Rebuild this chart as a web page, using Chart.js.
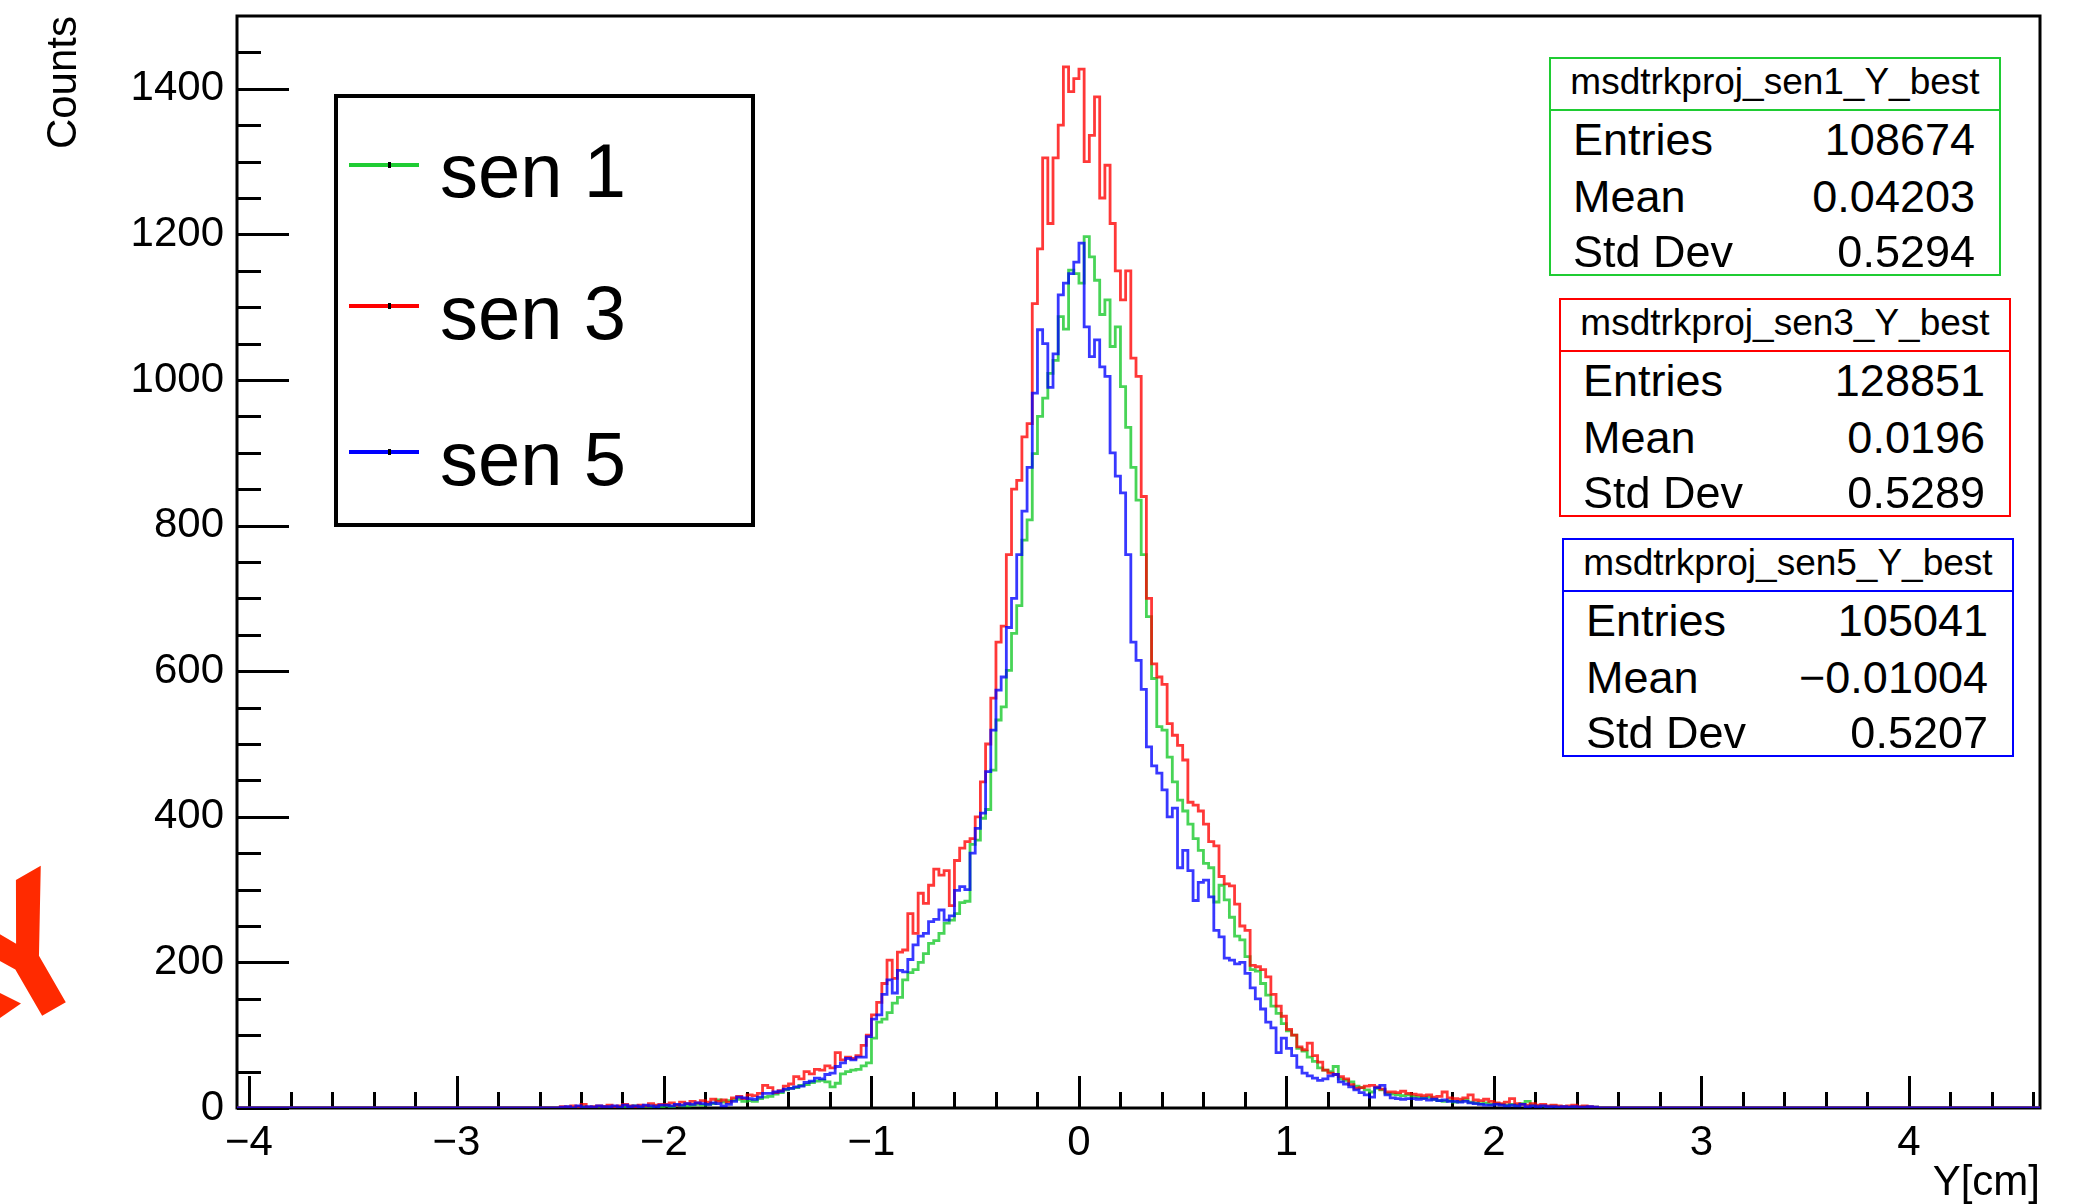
<!DOCTYPE html>
<html>
<head>
<meta charset="utf-8">
<title>msdtrkproj Y best</title>
<script src="https://cdn.jsdelivr.net/npm/chart.js@4.4.1/dist/chart.umd.min.js"></script>
<style>
  html, body { margin: 0; padding: 0; background: #fff; }
  body { position: relative; width: 2089px; height: 1204px; overflow: hidden; font-family: 'Liberation Sans', Arial, Helvetica, sans-serif; }
  #c { position: absolute; left: 0; top: 0; }
  .txt { position: absolute; white-space: nowrap; color: #000; }
  .box { position: absolute; box-sizing: border-box; background: #fff; }
</style>
</head>
<body>
<canvas id="c" width="2089" height="1204"></canvas>
<script>
/* ==================================================
   Y projection of tracks on MSD sensors 1 / 3 / 5
================================================== */

// Axis ranges and tick labels
const X_MIN = -4.058;
const X_MAX = 4.632;
const Y_MAX = 1500;
const xTicks = [-4, -3, -2, -1, 0, 1, 2, 3, 4];
const yTicks = [0, 200, 400, 600, 800, 1000, 1200, 1400];

// Histogram binning (counts, bins of 0.025 cm from -2.5)
const binStart = -2.5;
const binWidth = 0.025;

const sen1Counts = [
  0, 1, 0, 1, 2, 0, 1, 1, 2, 1, 1, 2, 1, 2, 3, 1, 2, 2, 3, 2,
  3, 2, 4, 3, 3, 4, 5, 4, 5, 6, 11, 8, 10, 11, 12, 9, 10, 9, 13, 15,
  16, 19, 21, 25, 27, 28, 31, 32, 35, 37, 38, 36, 29, 34, 47, 50, 52, 53, 58, 62,
  96, 118, 122, 131, 144, 152, 176, 186, 190, 200, 212, 226, 230, 240, 254, 258, 267, 282, 284, 362,
  368, 398, 410, 464, 533, 551, 601, 652, 690, 780, 808, 899, 950, 975, 1009, 1027, 1087, 1070, 1151, 1146,
  1133, 1197, 1169, 1137, 1090, 1110, 1046, 1073, 991, 935, 880, 835, 760, 675, 590, 524, 519, 482, 448, 423,
  408, 390, 370, 354, 336, 330, 283, 306, 286, 262, 236, 231, 208, 190, 188, 171, 155, 140, 130, 116,
  106, 100, 82, 78, 70, 64, 55, 52, 50, 57, 40, 38, 36, 30, 28, 25, 22, 27, 25, 20,
  19, 18, 17, 18, 16, 15, 14, 15, 12, 10, 9, 10, 8, 9, 11, 8, 7, 6, 7, 5,
  6, 5, 4, 5, 4, 6, 9, 4, 3, 3, 2, 3, 2, 2, 1, 2, 1, 2, 1, 1
];

const sen3Counts = [
  2, 1, 3, 2, 5, 1, 2, 3, 2, 4, 2, 3, 5, 3, 2, 4, 3, 6, 4, 5,
  5, 7, 4, 8, 6, 9, 7, 10, 8, 12, 9, 11, 8, 14, 16, 13, 18, 17, 20, 31,
  28, 21, 24, 30, 33, 43, 40, 50, 47, 53, 52, 58, 55, 76, 66, 70, 68, 72, 86, 100,
  128, 145, 171, 203, 178, 214, 217, 267, 240, 295, 281, 306, 328, 320, 326, 278, 340, 357, 366, 370,
  400, 448, 500, 563, 640, 662, 760, 850, 862, 922, 940, 1105, 1180, 1305, 1215, 1305, 1350, 1430, 1396, 1414,
  1427, 1300, 1336, 1389, 1250, 1295, 1215, 1150, 1110, 1150, 1030, 1005, 840, 700, 610, 592, 582, 528, 512, 498,
  478, 420, 416, 408, 390, 366, 360, 318, 308, 305, 280, 250, 244, 196, 194, 190, 180, 156, 140, 126,
  108, 100, 84, 80, 89, 72, 63, 52, 48, 46, 43, 40, 32, 27, 28, 30, 31, 29, 26, 22,
  22, 21, 23, 20, 19, 18, 17, 18, 15, 16, 22, 14, 13, 12, 14, 18, 11, 10, 12, 9,
  7, 6, 8, 13, 6, 5, 4, 6, 4, 5, 3, 4, 3, 2, 3, 4, 2, 3, 2, 1
];

const sen5Counts = [
  1, 2, 0, 3, 1, 2, 1, 3, 2, 2, 3, 1, 4, 2, 3, 2, 4, 3, 2, 4,
  4, 3, 5, 4, 6, 5, 7, 6, 5, 7, 6, 3, 5, 9, 15, 14, 13, 12, 15, 20,
  20, 22, 23, 26, 27, 29, 30, 35, 37, 41, 40, 46, 48, 57, 62, 68, 66, 70, 70, 98,
  122, 128, 156, 176, 158, 189, 187, 204, 224, 236, 240, 256, 259, 272, 258, 264, 299, 304, 300, 350,
  384, 405, 462, 519, 574, 592, 660, 700, 760, 820, 880, 982, 1069, 1050, 990, 1036, 1117, 1133, 1146, 1162,
  1188, 1073, 1032, 1055, 1018, 1005, 900, 868, 845, 760, 640, 615, 575, 496, 470, 460, 437, 400, 412, 330,
  354, 326, 285, 310, 313, 290, 244, 235, 206, 203, 198, 200, 185, 165, 150, 136, 118, 110, 76, 96,
  82, 72, 56, 48, 44, 41, 38, 40, 44, 46, 36, 33, 29, 25, 21, 18, 15, 28, 31, 18,
  14, 13, 12, 13, 13, 12, 13, 11, 12, 10, 11, 9, 9, 8, 9, 7, 6, 5, 4, 4,
  5, 4, 3, 4, 3, 5, 2, 3, 2, 3, 2, 2, 1, 2, 1, 2, 1, 1, 2, 1
];

// Legend and stat boxes
const legendLabels = ['sen 1', 'sen 3', 'sen 5'];
const histNames = ['msdtrkproj_sen1_Y_best', 'msdtrkproj_sen3_Y_best', 'msdtrkproj_sen5_Y_best'];
const statNames = ['Entries', 'Mean', 'Std Dev'];
const statEntries = ['108674', '128851', '105041'];
const statMeans = ['0.04203', '0.0196', '\u22120.01004'];
const statStdDevs = ['0.5294', '0.5289', '0.5207'];

const GREEN = '#1fcc33';
const RED = '#ff0000';
const BLUE = '#0000ff';
const FONT = "'Liberation Sans', Arial, Helvetica, sans-serif";

// build step points: zero run-in, one point per bin low edge, zero run-out
function histPoints(counts) {
    const pts = [{ x: X_MIN, y: 0 }];
    counts.forEach((c, i) => pts.push({ x: binStart + i * binWidth, y: c }));
    pts.push({ x: binStart + counts.length * binWidth, y: 0 });
    pts.push({ x: X_MAX, y: 0 });
    return pts;
}

function histDataset(label, counts, color, order) {
    return {
        label: label,
        data: histPoints(counts),
        borderColor: color,
        borderWidth: 2.8,
        stepped: 'before',
        pointRadius: 0,
        fill: false,
        order: order
    };
}

// ROOT style frame with inward ticks
const frameTicks = {
    id: 'frameTicks',
    beforeDatasetsDraw(chart) {
        const { ctx, chartArea: a, scales: { x, y } } = chart;
        ctx.save();
        ctx.strokeStyle = '#000';
        ctx.lineWidth = 3;
        ctx.strokeRect(a.left, a.top, a.right - a.left, a.bottom - a.top);
        ctx.beginPath();
        for (let v = 0; v < Y_MAX; v += 50) {
            const py = Math.round(y.getPixelForValue(v)) + 0.5;
            const len = v % 200 === 0 ? 52 : 24;
            ctx.moveTo(a.left, py);
            ctx.lineTo(a.left + len, py);
        }
        for (let k = -20; k * 0.2 < X_MAX; k++) {
            const px = Math.round(x.getPixelForValue(k * 0.2)) + 0.5;
            const len = k % 5 === 0 ? 32 : 16;
            ctx.moveTo(px, a.bottom);
            ctx.lineTo(px, a.bottom - len);
        }
        ctx.stroke();
        ctx.restore();
    }
};

const fmtTick = v => (v < 0 ? '\u2212' + Math.abs(v) : String(v));

new Chart(document.getElementById('c'), {
    type: 'line',
    data: {
        datasets: [
            histDataset('sen 5', sen5Counts, 'rgba(0, 0, 255, 0.78)', 0),
            histDataset('sen 3', sen3Counts, 'rgba(255, 0, 0, 0.78)', 1),
            histDataset('sen 1', sen1Counts, 'rgba(20, 200, 40, 0.78)', 2)
        ]
    },
    options: {
        responsive: false,
        animation: false,
        devicePixelRatio: 1,
        layout: { padding: { top: 16, right: 49, left: 0, bottom: 0 } },
        plugins: { legend: { display: false }, tooltip: { enabled: false } },
        scales: {
            x: {
                type: 'linear',
                min: X_MIN,
                max: X_MAX,
                afterBuildTicks: s => { s.ticks = xTicks.map(v => ({ value: v })); },
                afterFit: s => { s.height = 96; s.paddingLeft = 0; s.paddingRight = 0; },
                grid: { display: false, drawTicks: false },
                border: { display: false },
                ticks: {
                    padding: 10,
                    maxRotation: 0,
                    autoSkip: false,
                    color: '#000',
                    font: { family: FONT, size: 42 },
                    callback: fmtTick
                },
                title: {
                    display: true,
                    text: 'Y[cm]',
                    align: 'end',
                    color: '#000',
                    font: { family: FONT, size: 42, lineHeight: 1 },
                    padding: { top: 0, bottom: 0 }
                }
            },
            y: {
                type: 'linear',
                min: 0,
                max: Y_MAX,
                afterBuildTicks: s => { s.ticks = yTicks.map(v => ({ value: v })); },
                afterFit: s => { s.width = 237; s.paddingTop = 0; s.paddingBottom = 0; },
                grid: { display: false, drawTicks: false },
                border: { display: false },
                ticks: {
                    padding: 13,
                    color: '#000',
                    font: { family: FONT, size: 42 },
                    callback: v => String(v)
                },
                title: {
                    display: true,
                    text: 'Counts',
                    align: 'end',
                    color: '#000',
                    font: { family: FONT, size: 42, lineHeight: 1 },
                    padding: { top: 43, bottom: 0 }
                }
            }
        }
    },
    plugins: [frameTicks]
});

// ---- HTML overlays (legend, stat boxes) ----
function addText(text, x, baseline, size, align, color) {
    const el = document.createElement('div');
    el.className = 'txt';
    el.textContent = text;
    el.style.font = size + 'px ' + FONT;
    el.style.lineHeight = size + 'px';
    el.style.top = (baseline - 0.8465 * size) + 'px';
    if (color) el.style.color = color;
    if (align === 'right') {
        el.style.right = (2089 - x) + 'px';
    } else if (align === 'center') {
        el.style.left = x + 'px';
        el.style.transform = 'translateX(-50%)';
    } else {
        el.style.left = x + 'px';
    }
    document.body.appendChild(el);
    return el;
}

function addBox(left, top, width, height, border) {
    const el = document.createElement('div');
    el.className = 'box';
    el.style.cssText += `left:${left}px;top:${top}px;width:${width}px;height:${height}px;border:${border};`;
    document.body.appendChild(el);
    return el;
}

// legend
addBox(334, 94, 421, 433, '4px solid #000').style.background = 'transparent';
const legendColors = [GREEN, RED, BLUE];
const legendY = [165, 306, 452];
const legendBase = [197, 339, 485];
legendLabels.forEach((lab, i) => {
    const ln = addBox(349, legendY[i] - 2, 70, 4, 'none');
    ln.style.background = legendColors[i];
    const mk = addBox(388, legendY[i] - 3, 3, 6, 'none');
    mk.style.background = '#000';
    addText(lab, 440, legendBase[i], 76);
});

// stat boxes
const boxLeft = [1549, 1559, 1562];
const boxTop = [57, 298, 538];
const boxColors = [GREEN, RED, BLUE];
const statValues = [statEntries, statMeans, statStdDevs];
histNames.forEach((name, i) => {
    const L = boxLeft[i], T = boxTop[i];
    addBox(L, T, 452, 219, '2px solid ' + boxColors[i]);
    const sep = addBox(L, T + 52, 452, 2, 'none');
    sep.style.background = boxColors[i];
    addText(name, L + 226, T + 37, 37, 'center');
    const rowBase = [T + 98, T + 155, T + 210];
    statNames.forEach((s, r) => {
        addText(s, L + 24, rowBase[r], 45);
        addText(statValues[r][i], L + 452 - 26, rowBase[r], 45, 'right');
    });
});

// cut-off red annotation letters at the left edge
const mark = addText('Y', -38, 856 + 161, 190);
mark.style.fontWeight = 'bold';
mark.style.color = '#ff2a00';
mark.style.transformOrigin = '63px 104px';
mark.style.transform = 'rotate(-30deg)';
const piece = addBox(0, 993, 21, 25, 'none');
piece.style.background = '#ff2a00';
piece.style.clipPath = 'polygon(0 0, 100% 42%, 0 100%)';
</script>
</body>
</html>
